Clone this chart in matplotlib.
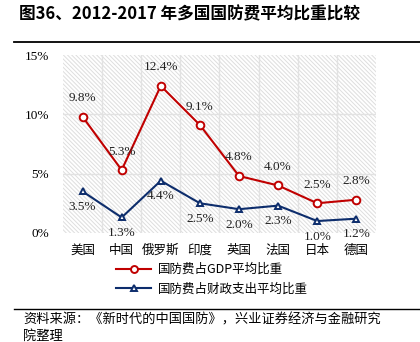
import matplotlib.pyplot as plt
from matplotlib.patches import Rectangle
from matplotlib.lines import Line2D

plt.rcParams['hatch.color'] = '#dedede'
plt.rcParams['hatch.linewidth'] = 0.7

countries = ['美国', '中国', '俄罗斯', '印度', '英国', '法国', '日本', '德国']
gdp_share = [9.8, 5.3, 12.4, 9.1, 4.8, 4.0, 2.5, 2.8]
fiscal_share = [3.5, 1.3, 4.4, 2.5, 2.0, 2.3, 1.0, 1.2]
yticks = [0, 5, 10, 15]

cjk = ['Noto Sans CJK SC', 'DejaVu Sans']
serif = ['Liberation Serif', 'DejaVu Serif']
red = '#c00000'
blue = '#0d2d6c'

fig = plt.figure(figsize=(4.2, 3.42), dpi=100)
ax = fig.add_axes([0.15, 0.319, 0.745, 0.52])

x = list(range(len(countries)))
ax.set_xlim(-0.5, len(countries) - 0.5)
ax.set_ylim(0, 15)

# hatched background
ax.add_patch(Rectangle((0, 0), 1, 1, transform=ax.transAxes, facecolor='white',
                       edgecolor='#dedede', hatch='\\' * 8, lw=0, zorder=0))
for v in yticks[1:-1]:
    ax.axhline(v, color='#e2e2e2', lw=1, zorder=1)
for b in range(1, len(countries)):
    ax.axvline(b - 0.5, color='#e2e2e2', lw=1, zorder=1)

ax.plot(x, gdp_share, color=red, lw=1.5, marker='o', ms=5.5, mfc='white',
        mec=red, mew=1.4, zorder=3)
ax.plot(x, fiscal_share, color=blue, lw=1.5, marker='^', ms=5, mfc='white',
        mec=blue, mew=1.4, zorder=3)

for i, v in enumerate(gdp_share):
    ax.annotate(f'{v:.1f}%', (i, v), xytext=(0, 9), textcoords='offset points',
                ha='center', va='bottom', fontsize=9.5, family=serif, color='#222222')
for i, v in enumerate(fiscal_share):
    ax.annotate(f'{v:.1f}%', (i, v), xytext=(0, -7), textcoords='offset points',
                ha='center', va='top', fontsize=9.5, family=serif, color='#222222')

ax.set_yticks(yticks)
ax.set_yticklabels([f'{t}%' for t in yticks], family=serif, fontsize=9.5)
ax.set_xticks(x)
ax.set_xticklabels(countries, family=cjk, fontsize=9)
ax.tick_params(length=0, pad=8)
ax.tick_params(axis='y', pad=10)
for s in ax.spines.values():
    s.set_visible(False)

handles = [Line2D([], [], color=red, lw=1.5, marker='o', ms=5, mfc='white', mec=red, mew=1.4),
           Line2D([], [], color=blue, lw=1.5, marker='^', ms=4.5, mfc='white', mec=blue, mew=1.4)]
fig.legend(handles, ['国防费占GDP平均比重', '国防费占财政支出平均比重'],
           loc='upper left', bbox_to_anchor=(0.265, 0.245), frameon=False,
           prop={'family': cjk, 'size': 9}, handlelength=2.8, labelspacing=0.5,
           borderaxespad=0, handletextpad=0.5)

fig.text(0.045, 0.958, '图36、2012-2017 年多国国防费平均比重比较', fontsize=12,
         fontweight='bold', family=cjk, va='center')
fig.add_artist(Line2D([0.033, 1.0], [0.877, 0.877], color='black', lw=1.3,
                      transform=fig.transFigure))
fig.add_artist(Line2D([0.033, 1.0], [0.097, 0.097], color='black', lw=1.0,
                      transform=fig.transFigure))
fig.text(0.055, 0.065, '资料来源：《新时代的中国国防》，兴业证券经济与金融研究', fontsize=9.5,
         family=cjk, va='center')
fig.text(0.055, 0.018, '院整理', fontsize=9.5, family=cjk, va='center')

fig.savefig('out.png', dpi=100)
